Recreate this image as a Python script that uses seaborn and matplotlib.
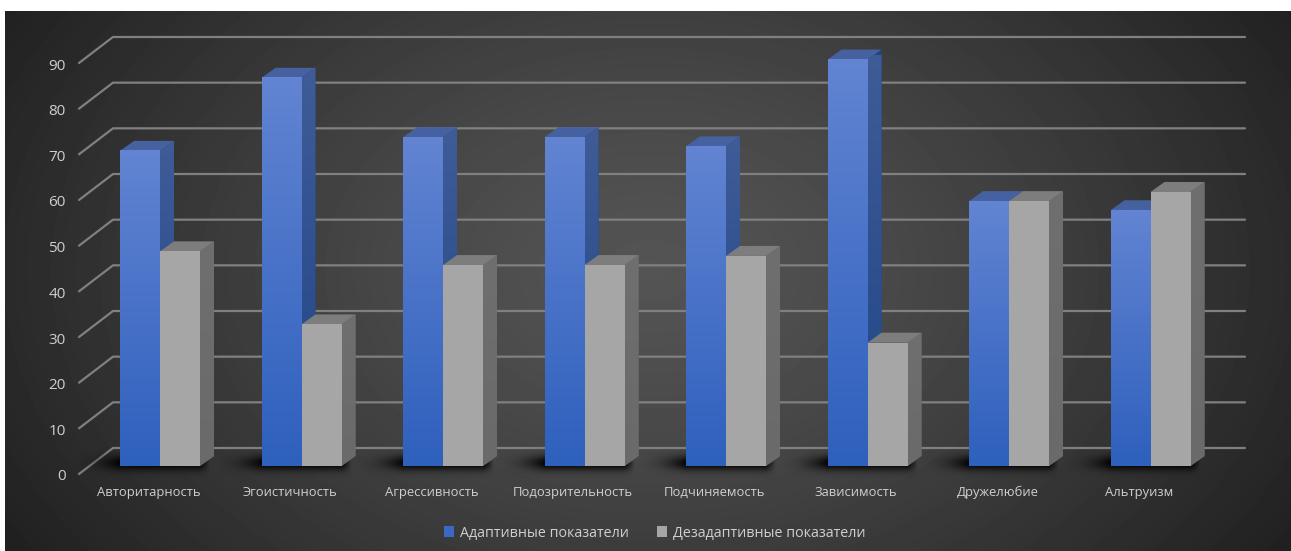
import numpy as np
import pandas as pd
import matplotlib
matplotlib.use("Agg")
import matplotlib.pyplot as plt
from matplotlib.colors import to_rgb
from matplotlib.patches import Polygon
from matplotlib.transforms import ScaledTranslation
import seaborn as sns

categories = ["Авторитарность", "Эгоистичность", "Агрессивность", "Подозрительность",
              "Подчиняемость", "Зависимость", "Дружелюбие", "Альтруизм"]
adaptive = [69, 85, 72, 72, 70, 89, 58, 56]
maladaptive = [47, 31, 44, 44, 46, 27, 58, 60]
series_names = ["Адаптивные показатели", "Дезадаптивные показатели"]
y_ticks = list(range(0, 100, 10))

W, H = 1291, 551
sns.set_style("white")
plt.rcParams["font.family"] = ["Open Sans", "DejaVu Sans"]
TXT = "#cfcfcf"

fig = plt.figure(figsize=(W / 100, H / 100), dpi=100, facecolor="white")

# background panel with a radial gradient
bg = fig.add_axes([5 / W, 0, (W - 5) / W, (H - 11) / H], zorder=0)
bg.axis("off")
yy, xx = np.mgrid[11:H, 5:W]
t = np.clip(np.sqrt(((xx - 650) / 760) ** 2 + ((yy - 270) / 520) ** 2), 0, 1) ** 1.3
bg.imshow(0x54 - (0x54 - 0x20) * t, cmap="gray", vmin=0, vmax=255, aspect="auto")

# main axes: value 0 at y=466 px, value 90 at y=55 px, spanning x=79..1245 px
PX_Y0, PX_Y90, PX_L, PX_R = 466, 55, 79, 1245
ax = fig.add_axes([PX_L / W, 1 - PX_Y0 / H, (PX_R - PX_L) / W, (PX_Y0 - PX_Y90) / H], zorder=1)
ax.patch.set_visible(False)
STEP = 141.5
X0 = 160
xlim = ((PX_L - X0) / STEP, (PX_R - X0) / STEP)
px_x = 1 / STEP
px_y = 90 / (PX_Y0 - PX_Y90)

df = pd.DataFrame({
    "cat": categories * 2,
    "val": adaptive + maladaptive,
    "series": [series_names[0]] * len(categories) + [series_names[1]] * len(categories),
})
sns.barplot(data=df, x="cat", y="val", hue="series", ax=ax, width=80 / STEP, gap=0,
            palette=["#3a68c4", "#a6a6a6"], saturation=1, zorder=6, linewidth=0)

DX, DY = 14 * px_x, 10 * px_y

# gridlines on the floor/back wall
for v in y_ticks:
    ax.plot([xlim[0], xlim[0] + 34 * px_x, xlim[1]],
            [v - 8 * px_y, v + 18 * px_y, v + 18 * px_y],
            color="#808080", lw=1.6, clip_on=False, zorder=1, solid_capstyle="round")


def grad(ax, patch, top, bottom, z):
    """Fill a polygon with a vertical gradient."""
    ext = patch.get_path().get_extents()
    c = np.linspace(0, 1, 128)[:, None, None]
    arr = (1 - c) * np.array(to_rgb(top))[None, None, :] + c * np.array(to_rgb(bottom))[None, None, :]
    im = ax.imshow(arr, extent=(ext.x0, ext.x1, ext.y0, ext.y1), aspect="auto", origin="upper",
                   zorder=z, interpolation="bilinear")
    im.set_clip_path(patch)
    return im


blue_bars, gray_bars = ax.containers[0], ax.containers[1]
for i, (b, g) in enumerate(zip(blue_bars, gray_bars)):
    xl, xr = b.get_x(), g.get_x() + g.get_width()
    # soft shadow to the left of the group
    left = xl - 50 * px_x
    right = xr + 10 * px_x
    bot, top = -12 * px_y, 24 * px_y
    n = 64
    ux = np.linspace(0, 1, 256)
    span = (right - left) / px_x
    ramp = np.clip(ux * span / 50, 0, 1) ** 2.2
    ramp *= np.clip((1 - ux) * span / 10, 0, 1)
    vy = np.linspace(top, bot, n) / px_y
    sh = np.exp(-((vy - 3) / 7.5) ** 2)
    rgba = np.zeros((n, 256, 4))
    rgba[..., 3] = np.outer(sh, ramp) * 0.95
    shadow = ax.imshow(rgba, extent=(left, right, bot, top), aspect="auto", zorder=2, origin="upper",
                       interpolation="bilinear")
    shadow.set_clip_on(False)

    for bar, stop, sbot, topc, z in ((b, "#3f5c98", "#1f4585", "#45619f", 3),
                                     (g, "#6f6f6f", "#6a6a6a", "#7d7d7d", 4)):
        x0, x1, h = bar.get_x(), bar.get_x() + bar.get_width(), bar.get_height()
        side = Polygon([(x1, 0), (x1 + DX, DY), (x1 + DX, h + DY), (x1, h)], closed=True,
                       facecolor=sbot, edgecolor="none", zorder=z, clip_on=False)
        ax.add_patch(side)
        grad(ax, side, stop, sbot, z + 0.1)
        lid = Polygon([(x0, h), (x0 + DX, h + DY), (x1 + DX, h + DY), (x1, h)], closed=True,
                      facecolor=topc, edgecolor="none", zorder=z + 0.2, clip_on=False)
        ax.add_patch(lid)
    # gradient on the blue front face, above the flat bar
    bh = b.get_height()
    c = np.linspace(0, 1, 128)[:, None, None]
    arr = (1 - c) * np.array(to_rgb("#6284d2"))[None, None, :] + c * np.array(to_rgb("#2e60bd"))[None, None, :]
    ax.imshow(arr, extent=(b.get_x(), b.get_x() + b.get_width(), 0, bh), aspect="auto",
              origin="upper", zorder=6.5, interpolation="bilinear")

ax.set_xlim(*xlim)
ax.set_ylim(0, 90)
for s in ax.spines.values():
    s.set_visible(False)
ax.grid(False)
ax.set_xlabel("")
ax.set_ylabel("")
ax.set_yticks(y_ticks)
ax.set_yticklabels([str(v) for v in y_ticks])
ax.tick_params(axis="y", length=0, pad=9.5, labelsize=11, labelcolor=TXT)
ax.tick_params(axis="x", length=0, pad=14.5, labelsize=9.4, labelcolor=TXT)
yshift = ScaledTranslation(0, -9 / 100, fig.dpi_scale_trans)
for lab in ax.get_yticklabels():
    lab.set_transform(lab.get_transform() + yshift)
xshift = ScaledTranslation(-11.5 / 100, 0, fig.dpi_scale_trans)
for lab in ax.get_xticklabels():
    lab.set_transform(lab.get_transform() + xshift)

sns.move_legend(ax, "center", bbox_to_anchor=(654.5 / W, 1 - 533 / H), bbox_transform=fig.transFigure,
                ncol=2, frameon=False, title=None, fontsize=10.3, labelcolor=TXT,
                handlelength=0.7, handleheight=0.7, handletextpad=0.4, columnspacing=2.0)

fig.savefig("out.png", dpi=100)
